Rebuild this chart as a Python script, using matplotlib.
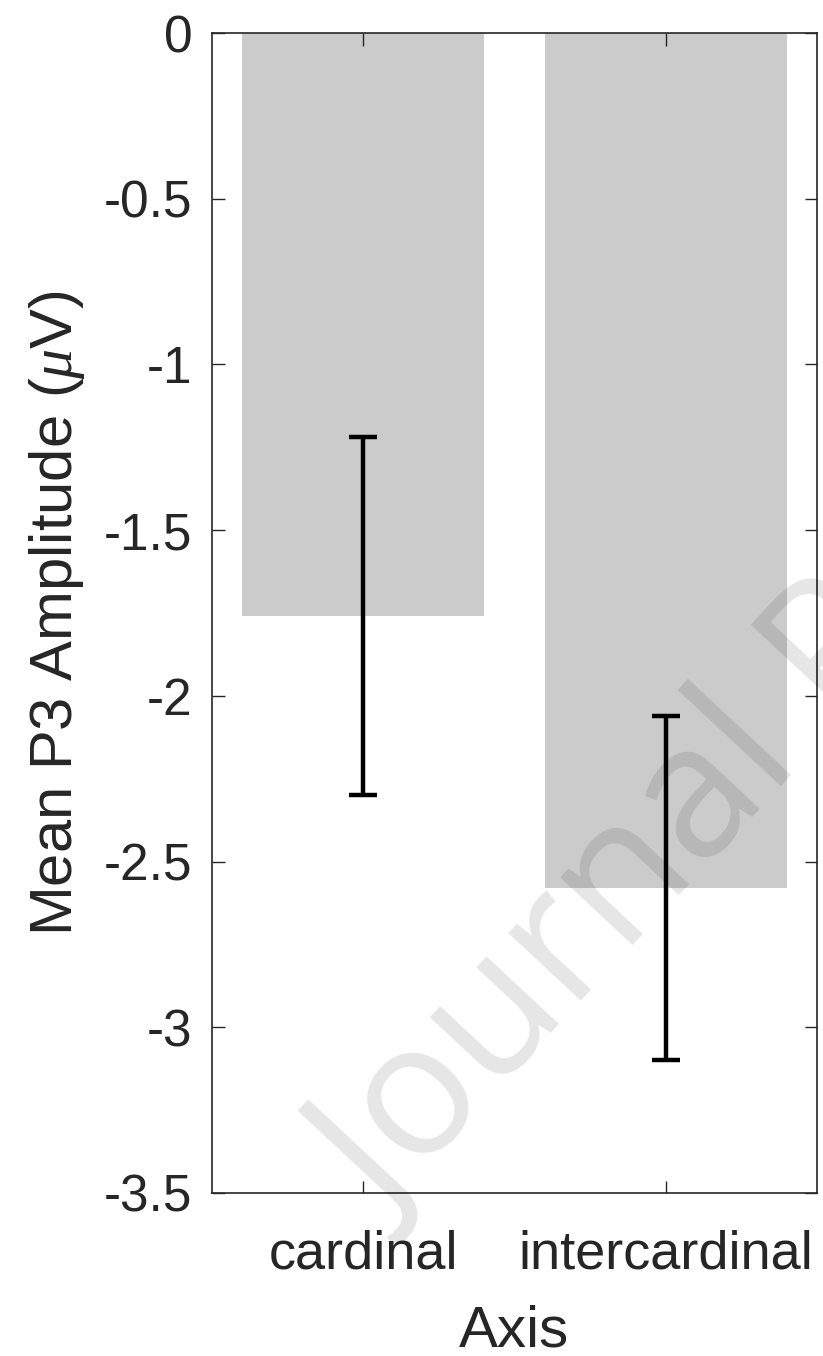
import numpy as np
import matplotlib
matplotlib.use("Agg")
import matplotlib.pyplot as plt

categories = ["cardinal", "intercardinal"]
means = [-1.76, -2.58]
errors = [0.54, 0.52]
yticks = [0, -0.5, -1, -1.5, -2, -2.5, -3, -3.5]
ytick_labels = ["0", "-0.5", "-1", "-1.5", "-2", "-2.5", "-3", "-3.5"]

plt.rcParams['font.family'] = ['Liberation Sans', 'DejaVu Sans']
plt.rcParams['mathtext.fontset'] = 'custom'
plt.rcParams['mathtext.it'] = 'Liberation Serif:italic'

fig = plt.figure(figsize=(8.23, 13.56), dpi=100)
ax = fig.add_axes([212 / 823, 1 - 1193 / 1356, (817 - 212) / 823, (1193 - 33) / 1356])

x = np.arange(1, len(categories) + 1)
ax.bar(x, means, width=0.8, color='#cbcbcb', zorder=1)
ax.errorbar(x, means, yerr=errors, fmt='none', ecolor='black',
            elinewidth=3.2, capsize=10, capthick=3.2, zorder=3)

ax.set_xlim(0.5, 2.5)
ax.set_ylim(-3.5, 0)
ax.set_xticks(x)
ax.set_xticklabels(categories, fontsize=39)
ax.set_yticks(yticks)
ax.set_yticklabels(ytick_labels, fontsize=37)

ax.tick_params(direction='in', length=9, width=1, colors='#262626',
               top=True, right=True, labelcolor='#262626')
ax.tick_params(axis='y', pad=14)
ax.tick_params(axis='x', pad=26)
for s in ax.spines.values():
    s.set_color('#262626')
    s.set_linewidth(1.2)

ax.set_xlabel('Axis', fontsize=42, color='#262626', labelpad=18)
ax.set_ylabel(r'Mean P3 Amplitude ($\mu$V)', fontsize=43, color='#262626', labelpad=12)

# watermark
fig.text(388 / 823, 1 - 1224 / 1356, 'Journal Pre-proof', fontsize=134,
         family='Open Sans', color='black', alpha=0.1, rotation=47,
         rotation_mode='anchor', ha='left', va='baseline', zorder=10)

fig.savefig('out.png', dpi=100)
